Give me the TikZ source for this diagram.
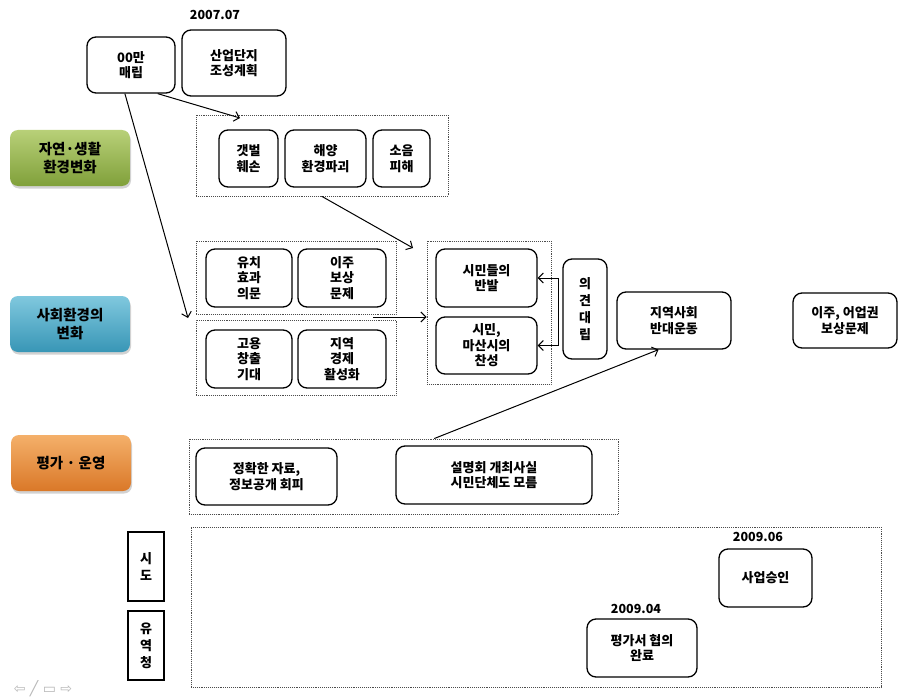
\documentclass[tikz,border=0pt]{standalone}
\usepackage{fontspec}
\setmainfont{Noto Sans CJK KR}
\newfontfamily\navfont{DejaVu Sans}
\usetikzlibrary{shadows, arrows.meta}
\definecolor{natTop}{RGB}{184,208,120}
\definecolor{natBot}{RGB}{128,160,58}
\definecolor{socTop}{RGB}{128,200,222}
\definecolor{socBot}{RGB}{56,150,182}
\definecolor{evalTop}{RGB}{244,176,106}
\definecolor{evalBot}{RGB}{218,120,40}

\begin{document}
\begin{tikzpicture}[x=1pt, y=-1pt,
  box/.style={draw, line width=1.3pt, rounded corners=9pt, align=center, inner sep=0pt,
    font=\bfseries\fontsize{13}{15.5}\selectfont},
  vbox/.style={draw, line width=1.3pt, align=center, inner sep=0pt,
    minimum width=36pt, minimum height=69pt, font=\bfseries\fontsize{13}{17}\selectfont},
  grp/.style={draw=black!70, densely dotted, line width=0.9pt, inner sep=0pt},
  topic/.style={rounded corners=8pt, minimum width=120pt, minimum height=56pt, align=center,
    font=\bfseries\fontsize{14.5}{18}\selectfont,
    drop shadow={opacity=0.35, shadow xshift=1pt, shadow yshift=-2.5pt}},
  date/.style={font=\bfseries\fontsize{12.5}{15}\selectfont},
  link/.style={-{Straight Barb[length=5pt, width=10pt, line width=1pt]}, line width=1pt}]
\fill[white] (0,0) rectangle (899,698);
\useasboundingbox (0,0) rectangle (899,698);

\node[date] (d0707) at (215,15) {2007.07};
\node[box, minimum width=88pt, minimum height=56pt] (mae) at (131,65) {00만\\매립};
\node[box, minimum width=104pt, minimum height=66pt] (plan) at (234,63) {산업단지\\조성계획};

\node[topic, top color=natTop, bottom color=natBot] (nat) at (70,158) {자연·생활\\환경변화};
\node[topic, top color=socTop, bottom color=socBot] (soc) at (70,324) {사회환경의\\변화};
\node[topic, top color=evalTop, bottom color=evalBot] (eval) at (71,463) {평가 · 운영};

\node[grp, minimum width=252pt, minimum height=81pt] (natgrp) at (322,155.5) {};
\node[box, minimum width=59pt, minimum height=57pt] (tidal) at (248.5,158.5) {갯벌\\훼손};
\node[box, minimum width=81pt, minimum height=57pt] (sea) at (325.5,158.5) {해양\\환경파괴};
\node[box, minimum width=57pt, minimum height=57pt] (noise) at (401.5,158.5) {소음\\피해};

\node[grp, minimum width=200pt, minimum height=73pt] (doubtgrp) at (296,277.5) {};
\node[box, minimum width=86pt, minimum height=58pt] (doubt) at (249,278) {유치\\효과\\의문};
\node[box, minimum width=88pt, minimum height=58pt] (comp) at (342,278) {이주\\보상\\문제};
\node[grp, minimum width=200pt, minimum height=75pt] (hopegrp) at (296,357.5) {};
\node[box, minimum width=86pt, minimum height=58pt] (job) at (249,359) {고용\\창출\\기대};
\node[box, minimum width=88pt, minimum height=58pt] (econ) at (342,359) {지역\\경제\\활성화};

\node[grp, minimum width=124pt, minimum height=143pt] (citgrp) at (489,312.5) {};
\node[box, minimum width=101pt, minimum height=58pt] (ban) at (486.5,278) {시민들의\\반발};
\node[box, minimum width=101pt, minimum height=57pt] (pro) at (486.5,345.5) {시민,\\마산시의\\찬성};
\node[box, minimum width=44pt, minimum height=100pt, font=\bfseries\fontsize{13}{17}\selectfont] (opp) at (585,309) {의\\견\\대\\립};
\node[box, minimum width=114pt, minimum height=57pt] (move) at (674,320.5) {지역사회\\반대운동};
\node[box, minimum width=104pt, minimum height=55pt] (fish) at (845,320.5) {이주, 어업권\\보상문제};

\node[grp, minimum width=429pt, minimum height=75pt] (evalgrp) at (403.5,476.5) {};
\node[box, minimum width=141pt, minimum height=57pt] (info) at (266.5,476.5) {정확한 자료,\\정보공개 회피};
\node[box, minimum width=196pt, minimum height=58pt] (brief) at (494,475) {설명회 개최사실\\시민단체도 모름};

\node[vbox] (sido) at (146,566.5) {시\\도};
\node[vbox] (basin) at (146,645.5) {유\\역\\청};
\node[grp, minimum width=690pt, minimum height=160pt] (stepgrp) at (536,607) {};
\node[date] (d0906) at (758,537) {2009.06};
\node[box, minimum width=93pt, minimum height=58pt] (appr) at (765.5,578) {사업승인};
\node[date] (d0904) at (636,609) {2009.04};
\node[box, minimum width=110pt, minimum height=58pt] (done) at (642,648) {평가서 협의\\완료};

\coordinate (natin) at (240,118);
\coordinate (socin) at (188,318);
\coordinate (citin) at (413,248);
\coordinate (gap) at (373,317);
\coordinate (fork) at ([xshift=-4pt]opp.west);
\draw[link] (mae.-47) -- (natin);
\draw[link] (mae.-102) -- (socin);
\draw[link] (natgrp.south) -- (citin);
\draw[link] (gap) -- (gap -| citgrp.west);
\draw[link] (fork) |- (ban.east);
\draw[link] (fork) |- (pro.east);
\draw[link] (evalgrp.51) -- (move.-118);

\node[text=black!28, font=\navfont\fontsize{14}{16}\selectfont] (nav) at (43,689) {⇦ ╱ ▭ ⇨};
\end{tikzpicture}
\end{document}
